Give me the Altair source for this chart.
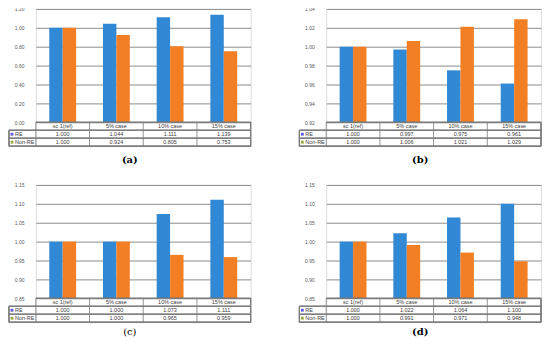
import altair as alt
import pandas as pd

cases = ["sc 1(ref)", "5% case", "10% case", "15% case"]
series = ["RE", "Non-RE"]
panel_titles = ["(a)", "(b)", "(c)", "(d)"]

re_a = [1.000, 1.044, 1.111, 1.139]
nonre_a = [1.000, 0.924, 0.805, 0.753]
re_b = [1.000, 0.997, 0.975, 0.961]
nonre_b = [1.000, 1.006, 1.021, 1.029]
re_c = [1.000, 1.000, 1.073, 1.111]
nonre_c = [1.000, 1.000, 0.965, 0.959]
re_d = [1.000, 1.022, 1.064, 1.100]
nonre_d = [1.000, 0.991, 0.971, 0.948]

y_domain_a = [0.0, 1.2]
y_domain_b = [0.92, 1.04]
y_domain_cd = [0.85, 1.15]
ticks_a = [0.0, 0.2, 0.4, 0.6, 0.8, 1.0, 1.2]
ticks_b = [0.92, 0.94, 0.96, 0.98, 1.00, 1.02, 1.04]
ticks_cd = [0.85, 0.90, 0.95, 1.00, 1.05, 1.10, 1.15]

W, HB, RH, LABW = 216, 114, 8, 27
H = HB + 3 * RH
BAR_COLORS = ["#3189d6", "#f27f24"]
KEY_COLORS = ["#5a5ad6", "#9aa63a"]
GRID = "#8c8c8c"
LINE = "#7a7a7a"
TXT = "#404040"


def panel(title, re_vals, non_vals, dom, ticks, toff, weight):
    df = pd.DataFrame({
        "case": cases * 2,
        "series": ["RE"] * 4 + ["Non-RE"] * 4,
        "value": re_vals + non_vals,
    })
    df["label"] = [f"{v:.3f}" for v in df["value"]]
    hdr = pd.DataFrame({"case": cases, "row": ["hdr"] * 4})
    rows = pd.DataFrame({"series": series})

    xs = alt.Scale(domain=cases, paddingInner=0, paddingOuter=0)
    ytab = alt.Scale(type="point", domain=["hdr"] + series, range=[HB, H], padding=0.5)

    bars = alt.Chart(df).mark_bar().encode(
        x=alt.X("case:N", scale=xs, axis=None, sort=cases),
        xOffset=alt.XOffset("series:N", sort=series,
                            scale=alt.Scale(domain=series, paddingInner=0, paddingOuter=1)),
        y=alt.Y("value:Q",
                scale=alt.Scale(domain=dom, range=[HB, 0], zero=False, nice=False),
                axis=alt.Axis(values=ticks, format=".2f", grid=True, domain=False, ticks=False,
                              labelFontSize=5, labelPadding=12, gridColor=GRID, gridWidth=1,
                              labelColor="#595959", title=None)),
        y2=alt.datum(dom[0]),
        color=alt.Color("series:N", scale=alt.Scale(domain=series, range=BAR_COLORS), legend=None),
    )

    head = alt.Chart(hdr).mark_text(fontSize=5.5, color=TXT).encode(
        x=alt.X("case:N", scale=xs, axis=None, bandPosition=0.5),
        y=alt.Y("row:N", scale=ytab, axis=None),
        text="case:N",
    )
    vals = alt.Chart(df).mark_text(fontSize=5.5, color=TXT).encode(
        x=alt.X("case:N", scale=xs, axis=None, bandPosition=0.5),
        y=alt.Y("series:N", scale=ytab, axis=None),
        text="label:N",
    )
    keys = alt.Chart(rows).mark_square(size=8, opacity=1).encode(
        x=alt.value(-LABW + 3),
        y=alt.Y("series:N", scale=ytab, axis=None),
        fill=alt.Fill("series:N", scale=alt.Scale(domain=series, range=KEY_COLORS), legend=None),
    )
    labs = alt.Chart(rows).mark_text(fontSize=5.5, color=TXT, align="left").encode(
        x=alt.value(-LABW + 6),
        y=alt.Y("series:N", scale=ytab, axis=None),
        text="series:N",
    )
    vlines = alt.Chart(hdr).mark_rule(color=LINE, strokeWidth=0.8).encode(
        x=alt.X("case:N", scale=xs, axis=None, bandPosition=0),
        y=alt.value(HB), y2=alt.value(H),
    )
    vright = alt.Chart(hdr).mark_rule(color=LINE, strokeWidth=0.8).encode(
        x=alt.value(W), y=alt.value(HB), y2=alt.value(H))
    vleft = alt.Chart(hdr).mark_rule(color=LINE, strokeWidth=0.8).encode(
        x=alt.value(-LABW), y=alt.value(HB + RH), y2=alt.value(H))
    htop = alt.Chart(hdr).mark_rule(color=LINE, strokeWidth=0.8).encode(
        x=alt.value(0), x2=alt.value(W), y=alt.value(HB))
    hl = [alt.Chart(hdr).mark_rule(color=LINE, strokeWidth=0.8).encode(
        x=alt.value(-LABW), x2=alt.value(W), y=alt.value(HB + k * RH)) for k in (1, 2, 3)]

    return alt.layer(bars, head, vals, keys, labs, vlines, vright, vleft, htop, *hl).resolve_scale(
        y="independent"
    ).properties(
        width=W, height=H,
        title=alt.TitleParams(title, orient="bottom", anchor="middle", frame="bounds",
                              font="DejaVu Serif", fontSize=10, fontWeight=weight,
                              color="#000000", offset=toff),
    )


pa = panel(panel_titles[0], re_a, nonre_a, y_domain_a, ticks_a, 9, "bold")
pb = panel(panel_titles[1], re_b, nonre_b, y_domain_b, ticks_b, 9, "bold")
pc = panel(panel_titles[2], re_c, nonre_c, y_domain_cd, ticks_cd, 5, "normal")
pd_ = panel(panel_titles[3], re_d, nonre_d, y_domain_cd, ticks_cd, 5, "bold")

chart = alt.vconcat(
    alt.hconcat(pa, pb, spacing=47),
    alt.hconcat(pc, pd_, spacing=47),
    spacing=16,
).configure_view(stroke=None).configure(font="Liberation Sans").properties(
    padding={"left": 0, "top": -3, "right": 0, "bottom": 0}
)

chart.save("out.html", embed_options={"renderer": "svg", "actions": False})
